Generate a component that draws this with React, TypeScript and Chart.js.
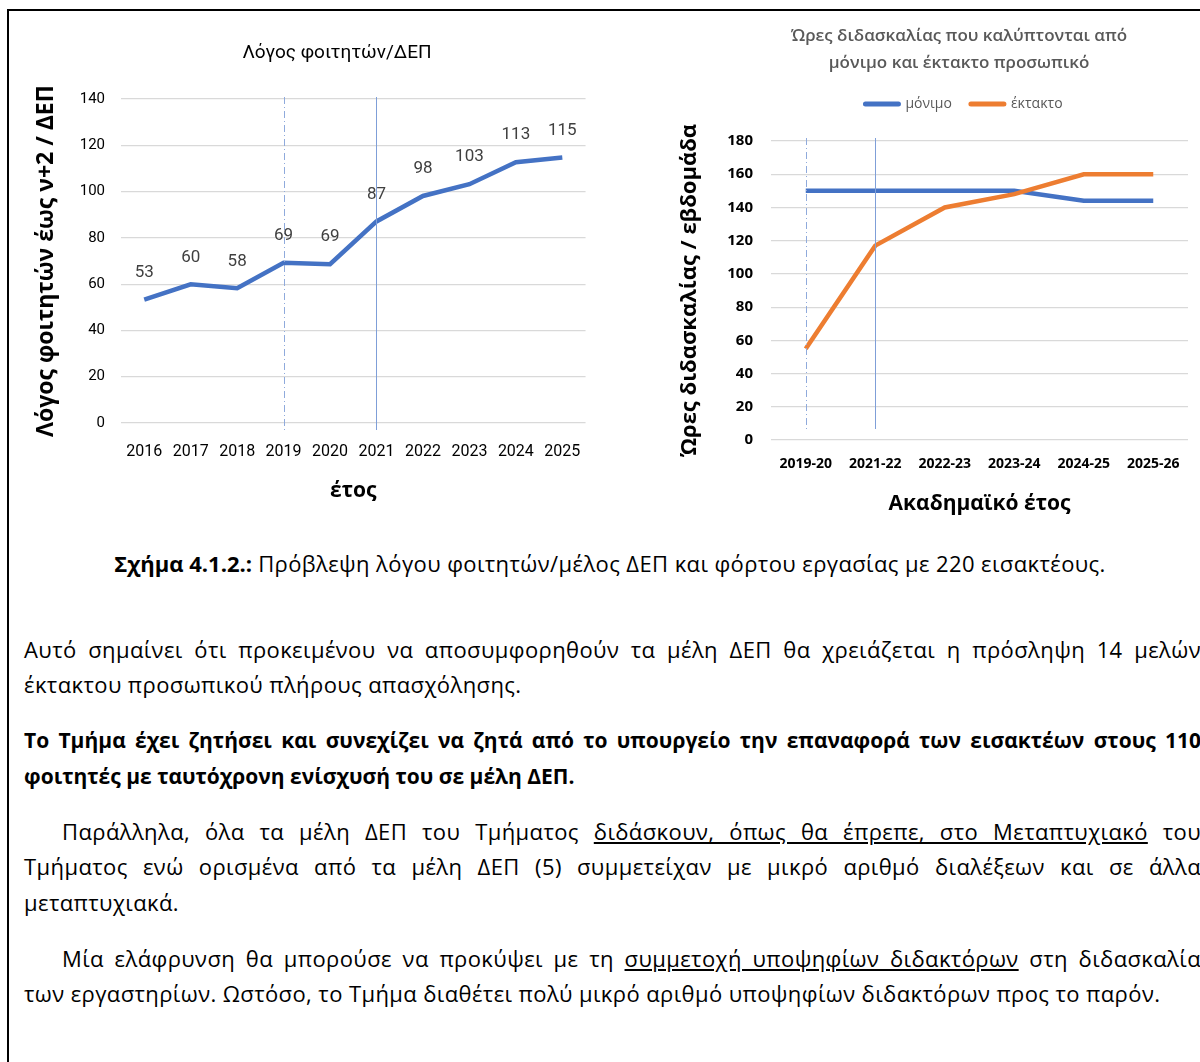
import React, { useEffect, useRef } from "react";
import { Chart, registerables } from "chart.js";

Chart.register(...registerables);

// ---------- Left chart: student / staff ratio ----------
const ratioYears = ["2016", "2017", "2018", "2019", "2020", "2021", "2022", "2023", "2024", "2025"];
const ratioValues = [53.3, 59.9, 58.2, 69.2, 68.6, 87.1, 98.1, 103.2, 112.7, 114.7];
const ratioLabels = ["53", "60", "58", "69", "69", "87", "98", "103", "113", "115"];
const ratioDashedAt = "2019";
const ratioSolidAt = "2021";
const ratioMin = 0;
const ratioMax = 140;
const ratioStep = 20;

// ---------- Right chart: teaching hours ----------
const academicYears = ["2019-20", "2021-22", "2022-23", "2023-24", "2024-25", "2025-26"];
const permanentHours = [150, 150, 150, 150, 144, 144];
const temporaryHours = [55, 117, 140, 148, 160, 160];
const hoursDashedAt = "2019-20";
const hoursSolidAt = "2021-22";
const hoursMin = 0;
const hoursMax = 180;
const hoursStep = 20;

const BLUE = "#4472C4";
const ORANGE = "#ED7D31";
const GRID = "#D9D9D9";
const NARROW = 'Roboto, "Noto Sans", sans-serif';
const SANS = '"Open Sans", "Noto Sans", sans-serif';

const markerLinesPlugin = {
  id: "markerLines",
  afterDatasetsDraw(chart: any, _a: any, opts: any) {
    if (!opts || !opts.lines) return;
    const xs = chart.scales.x;
    const { top, bottom } = chart.chartArea;
    const ctx = chart.ctx;
    const labels = chart.data.labels as string[];
    ctx.save();
    for (const l of opts.lines) {
      const idx = labels.indexOf(l.at);
      if (idx < 0) continue;
      const px = Math.round(xs.getPixelForValue(idx)) + 0.5;
      ctx.beginPath();
      ctx.setLineDash(l.dash ? [...l.dash] : []);
      ctx.strokeStyle = l.color;
      ctx.lineWidth = 1;
      ctx.moveTo(px, top + opts.extendTop);
      ctx.lineTo(px, bottom + opts.extendBottom);
      ctx.stroke();
    }
    ctx.restore();
  },
};

const pointLabelsPlugin = {
  id: "pointLabels",
  afterDatasetsDraw(chart: any, _a: any, opts: any) {
    if (!opts || !opts.texts) return;
    const meta = chart.getDatasetMeta(0);
    const ctx = chart.ctx;
    ctx.save();
    ctx.font = `${opts.size}px ${opts.family}`;
    ctx.fillStyle = opts.color;
    ctx.textAlign = "center";
    ctx.textBaseline = "middle";
    meta.data.forEach((pt: any, i: number) => {
      ctx.fillText(opts.texts[i], pt.x, pt.y - opts.offset);
    });
    ctx.restore();
  },
};

const headingPlugin = {
  id: "heading",
  afterDraw(chart: any, _a: any, opts: any) {
    if (!opts || !opts.lines) return;
    const ctx = chart.ctx;
    ctx.save();
    ctx.font = `${opts.weight} ${opts.size}px ${opts.family}`;
    ctx.fillStyle = opts.color;
    ctx.textAlign = "center";
    ctx.textBaseline = "middle";
    opts.lines.forEach((t: string, i: number) => {
      ctx.fillText(t, opts.x, opts.y + i * opts.lineGap);
    });
    ctx.restore();
  },
};

const lineLegendPlugin = {
  id: "lineLegend",
  afterDraw(chart: any, _a: any, opts: any) {
    if (!opts || !opts.show) return;
    const ctx = chart.ctx;
    ctx.save();
    ctx.font = `${opts.size}px ${opts.family}`;
    const items = chart.data.datasets.map((d: any) => ({
      text: d.label,
      color: d.borderColor,
      w: ctx.measureText(d.label).width,
    }));
    const total =
      items.reduce((s: number, it: any) => s + opts.sample + opts.gap + it.w, 0) +
      opts.spacing * (items.length - 1);
    let x = opts.centerX - total / 2;
    for (const it of items) {
      ctx.strokeStyle = it.color;
      ctx.lineWidth = opts.thickness;
      ctx.lineCap = "round";
      ctx.beginPath();
      ctx.moveTo(x + 2, opts.y);
      ctx.lineTo(x + opts.sample - 2, opts.y);
      ctx.stroke();
      x += opts.sample + opts.gap;
      ctx.fillStyle = opts.color;
      ctx.textAlign = "left";
      ctx.textBaseline = "middle";
      ctx.fillText(it.text, x, opts.y);
      x += it.w + opts.spacing;
    }
    ctx.restore();
  },
};

function RatioChart() {
  const ref = useRef<HTMLCanvasElement | null>(null);
  useEffect(() => {
    if (!ref.current) return;
    const chart = new Chart(ref.current, {
      type: "line",
      data: {
        labels: ratioYears,
        datasets: [
          {
            label: "Λόγος",
            data: ratioValues,
            borderColor: BLUE,
            backgroundColor: BLUE,
            borderWidth: 4.5,
            pointRadius: 0,
            tension: 0,
            fill: false,
          },
        ],
      },
      options: {
        responsive: false,
        animation: false,
        devicePixelRatio: 1,
        layout: { padding: { top: 79, right: 14, left: 0, bottom: 0 } },
        plugins: {
          legend: { display: false },
          tooltip: { enabled: false },
          title: { display: false },
          heading: {
            lines: ["Λόγος φοιτητών/ΔΕΠ"],
            x: 327,
            y: 33,
            lineGap: 0,
            size: 19,
            weight: "normal",
            family: NARROW,
            color: "#000000",
          },
          markerLines: {
            extendTop: -2,
            extendBottom: 7,
            lines: [
              { at: ratioDashedAt, color: "#8FAADC", dash: [7, 3, 1, 3] },
              { at: ratioSolidAt, color: "#7F9FD8" },
            ],
          },
          pointLabels: {
            texts: ratioLabels,
            offset: 27,
            size: 17,
            family: NARROW,
            color: "#404040",
          },
        } as any,
        scales: {
          x: {
            offset: true,
            grid: { display: false, drawTicks: false },
            border: { display: false },
            ticks: {
              autoSkip: false,
              maxRotation: 0,
              padding: 19,
              color: "#000000",
              font: { family: NARROW, size: 16 },
            },
            title: {
              display: true,
              text: "έτος",
              color: "#000000",
              font: { family: SANS, size: 21, weight: "bold" },
              padding: { top: 0, bottom: 16 },
            },
            afterFit(s: any) {
              s.height = 97;
            },
          },
          y: {
            min: ratioMin,
            max: ratioMax,
            grid: { color: GRID, lineWidth: 1.2, drawTicks: false },
            border: { display: false },
            ticks: {
              stepSize: ratioStep,
              padding: 16,
              color: "#000000",
              font: { family: NARROW, size: 15 },
            },
            title: {
              display: true,
              text: "Λόγος φοιτητών έως ν+2 / ΔΕΠ",
              color: "#000000",
              font: { family: SANS, size: 23, weight: "bold" },
              padding: { top: 23, bottom: 0 },
            },
            afterFit(s: any) {
              s.width = 111;
            },
          },
        },
      } as any,
      plugins: [markerLinesPlugin, pointLabelsPlugin, headingPlugin],
    });
    return () => chart.destroy();
  }, []);
  return (
    <canvas
      ref={ref}
      width={590}
      height={500}
      style={{ position: "absolute", left: 10, top: 20, width: 590, height: 500 }}
    />
  );
}

function HoursChart() {
  const ref = useRef<HTMLCanvasElement | null>(null);
  useEffect(() => {
    if (!ref.current) return;
    const chart = new Chart(ref.current, {
      type: "line",
      data: {
        labels: academicYears,
        datasets: [
          {
            label: "μόνιμο",
            data: permanentHours,
            borderColor: BLUE,
            backgroundColor: BLUE,
            borderWidth: 4.5,
            pointRadius: 0,
            tension: 0,
            fill: false,
            order: 1,
          },
          {
            label: "έκτακτο",
            data: temporaryHours,
            borderColor: ORANGE,
            backgroundColor: ORANGE,
            borderWidth: 4.5,
            pointRadius: 0,
            tension: 0,
            fill: false,
            order: 0,
          },
        ],
      },
      options: {
        responsive: false,
        animation: false,
        devicePixelRatio: 1,
        layout: { padding: { top: 131, right: 12, left: 0, bottom: 0 } },
        plugins: {
          legend: { display: false },
          tooltip: { enabled: false },
          title: { display: false },
          heading: {
            lines: ["Ώρες διδασκαλίας που καλύπτονται από", "μόνιμο και έκτακτο προσωπικό"],
            x: 289,
            y: 26,
            lineGap: 27,
            size: 17,
            weight: "600",
            family: SANS,
            color: "#595959",
          },
          lineLegend: {
            show: true,
            centerX: 293,
            y: 94,
            sample: 37,
            gap: 5,
            spacing: 17,
            thickness: 5,
            size: 14,
            family: SANS,
            color: "#595959",
          },
          markerLines: {
            extendTop: -3,
            extendBottom: -11,
            lines: [
              { at: hoursDashedAt, color: "#8FAADC", dash: [7, 3, 1, 3] },
              { at: hoursSolidAt, color: "#7F9FD8" },
            ],
          },
        } as any,
        scales: {
          x: {
            offset: true,
            grid: { display: false, drawTicks: false },
            border: { display: false },
            ticks: {
              autoSkip: false,
              maxRotation: 0,
              padding: 15.6,
              color: "#000000",
              font: { family: SANS, size: 14, weight: "bold" },
            },
            title: {
              display: true,
              text: "Ακαδημαϊκό έτος",
              color: "#000000",
              font: { family: SANS, size: 21, weight: "bold" },
              padding: { top: 0, bottom: 13.4 },
            },
            afterFit(s: any) {
              s.height = 90;
            },
          },
          y: {
            min: hoursMin,
            max: hoursMax,
            grid: { color: GRID, lineWidth: 1.2, drawTicks: false },
            border: { display: false },
            ticks: {
              stepSize: hoursStep,
              padding: 18,
              color: "#000000",
              font: { family: SANS, size: 15, weight: "bold" },
            },
            title: {
              display: true,
              text: "Ώρες διδασκαλίας / εβδομάδα",
              color: "#000000",
              font: { family: SANS, size: 22, weight: "bold" },
              padding: { top: 7, bottom: 0 },
            },
            afterFit(s: any) {
              s.width = 101;
            },
          },
        },
      } as any,
      plugins: [markerLinesPlugin, headingPlugin, lineLegendPlugin],
    });
    return () => chart.destroy();
  }, []);
  return (
    <canvas
      ref={ref}
      width={530}
      height={520}
      style={{ position: "absolute", left: 670, top: 10, width: 530, height: 520 }}
    />
  );
}

const FS = 22;
const LH = 28;
const baseOffset = (LH - 1.362 * FS) / 2 + 1.069 * FS;

function TextLine(props: {
  baseline: number;
  left: number;
  justify?: boolean;
  bold?: boolean;
  children: React.ReactNode;
}) {
  const { baseline, left, justify, bold, children } = props;
  return (
    <div
      style={{
        position: "absolute",
        left,
        top: baseline - baseOffset,
        width: 1201 - left,
        height: LH,
        lineHeight: LH + "px",
        fontSize: bold ? 21 : FS,
        letterSpacing: bold ? "0px" : "0.4px",
        fontFamily: SANS,
        fontWeight: bold ? 700 : 400,
        color: "#000",
        textAlign: justify ? "justify" : "left",
        textAlignLast: justify ? "justify" : "auto",
        whiteSpace: justify ? "normal" : "nowrap",
        overflow: "visible",
      } as any}
    >
      {children}
    </div>
  );
}

const U = (p: { children: React.ReactNode }) => (
  <span style={{ textDecoration: "underline" }}>{p.children}</span>
);

export default function App() {
  return (
    <div
      style={{
        position: "absolute",
        left: 0,
        top: 0,
        width: 1200,
        height: 1062,
        overflow: "hidden",
        background: "#ffffff",
      }}
    >
      <div style={{ position: "absolute", left: 7, top: 9, width: 1200, height: 2, background: "#000" }} />
      <div style={{ position: "absolute", left: 7, top: 9, width: 2, height: 1060, background: "#000" }} />
      <RatioChart />
      <HoursChart />
      <div
        style={{
          position: "absolute",
          left: 610,
          top: 572 - baseOffset,
          transform: "translateX(-50%)",
          whiteSpace: "nowrap",
          lineHeight: LH + "px",
          fontSize: FS,
          letterSpacing: "0.4px",
          fontFamily: SANS,
          color: "#000",
        }}
      >
        <b style={{ letterSpacing: 0 }}>Σχήμα 4.1.2.:</b> Πρόβλεψη λόγου φοιτητών/μέλος ΔΕΠ και φόρτου εργασίας με 220 εισακτέους.
      </div>
      <TextLine baseline={658} left={24} justify>
        Αυτό σημαίνει ότι προκειμένου να αποσυμφορηθούν τα μέλη ΔΕΠ θα χρειάζεται η πρόσληψη 14 μελών
      </TextLine>
      <TextLine baseline={693} left={24}>
        έκτακτου προσωπικού πλήρους απασχόλησης.
      </TextLine>
      <TextLine baseline={749} left={24} justify bold>
        Το Τμήμα έχει ζητήσει και συνεχίζει να ζητά από το υπουργείο την επαναφορά των εισακτέων στους 110
      </TextLine>
      <TextLine baseline={785} left={24} bold>
        φοιτητές με ταυτόχρονη ενίσχυσή του σε μέλη ΔΕΠ.
      </TextLine>
      <TextLine baseline={840} left={62} justify>
        Παράλληλα, όλα τα μέλη ΔΕΠ του Τμήματος <U>διδάσκουν, όπως θα έπρεπε, στο Μεταπτυχιακό</U> του
      </TextLine>
      <TextLine baseline={875} left={24} justify>
        Τμήματος ενώ ορισμένα από τα μέλη ΔΕΠ (5) συμμετείχαν με μικρό αριθμό διαλέξεων και σε άλλα
      </TextLine>
      <TextLine baseline={911} left={24}>
        μεταπτυχιακά.
      </TextLine>
      <TextLine baseline={967} left={62} justify>
        Μία ελάφρυνση θα μπορούσε να προκύψει με τη <U>συμμετοχή υποψηφίων διδακτόρων</U> στη διδασκαλία
      </TextLine>
      <TextLine baseline={1002} left={24}>
        των εργαστηρίων. Ωστόσο, το Τμήμα διαθέτει πολύ μικρό αριθμό υποψηφίων διδακτόρων προς το παρόν.
      </TextLine>
    </div>
  );
}
